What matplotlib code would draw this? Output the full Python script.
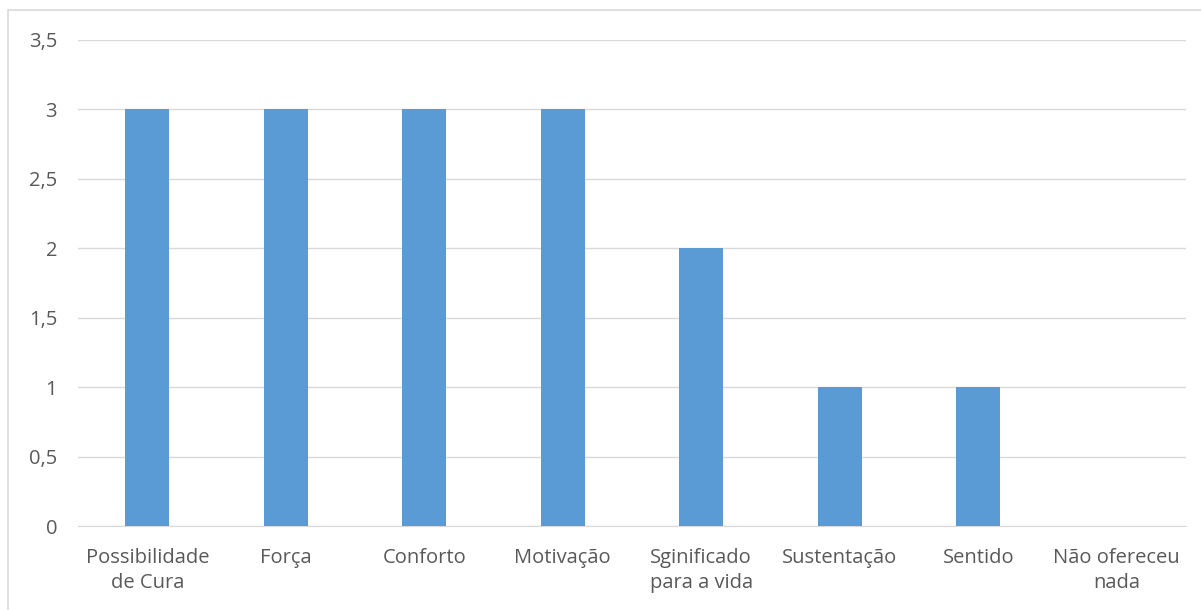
import matplotlib.pyplot as plt
from matplotlib.patches import Rectangle

categories = ['Possibilidade\nde Cura', 'Força', 'Conforto', 'Motivação',
              'Sginificado\npara a vida', 'Sustentação', 'Sentido', 'Não ofereceu\nnada']
values = [3, 3, 3, 3, 2, 1, 1, 0]
yticks = [0, 0.5, 1, 1.5, 2, 2.5, 3, 3.5]
ytick_labels = ['0', '0,5', '1', '1,5', '2', '2,5', '3', '3,5']

plt.rcParams['font.family'] = ['Open Sans', 'DejaVu Sans']
text_color = '#595959'
grid_color = '#D9D9D9'

fig = plt.figure(figsize=(12.01, 6.10), dpi=100)
ax = fig.add_axes([78 / 1201, 84 / 610, (1186 - 78) / 1201, (526 - 40) / 610])

x = range(len(categories))
ax.bar(x, values, width=0.32, color='#5B9BD5', zorder=3)

ax.set_xlim(-0.5, len(categories) - 0.5)
ax.set_ylim(0, 3.5)
ax.set_yticks(yticks)
ax.set_yticklabels(ytick_labels)
ax.set_xticks(list(x))
ax.set_xticklabels(categories, linespacing=1.3)

ax.grid(axis='y', color=grid_color, linewidth=1, zorder=0)
for side in ['top', 'right', 'left']:
    ax.spines[side].set_visible(False)
ax.spines['bottom'].set_color(grid_color)
ax.tick_params(axis='both', length=0, colors=text_color, labelsize=14.5)
ax.tick_params(axis='y', pad=15)
ax.tick_params(axis='x', pad=16)

# chart frame
fig.patches.append(Rectangle((8 / 1201, -0.1), 1.2, (610 - 10) / 610 + 0.1,
                             transform=fig.transFigure, fill=False,
                             edgecolor=grid_color, linewidth=1.2))

fig.savefig('out.png', dpi=100)
